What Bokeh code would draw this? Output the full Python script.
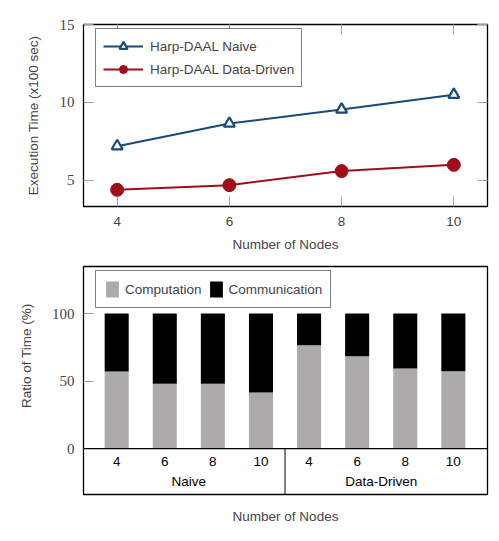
from bokeh.plotting import figure
from bokeh.models import (Range1d, LinearAxis, FixedTicker, Legend, LegendItem,
                          ColumnDataSource, Span, Title)
from bokeh.layouts import column
from bokeh.core.properties import value
from bokeh.embed import file_html
from bokeh.resources import INLINE

# ---------------- data ----------------
nodes = [4, 6, 8, 10]
naive_time = [7.2, 8.65, 9.55, 10.5]
dd_time = [4.4, 4.7, 5.6, 6.0]

groups = ["Naive", "Data-Driven"]
bar_nodes = ["4", "6", "8", "10", "4", "6", "8", "10"]
bar_groups = ["Naive"] * 4 + ["Data-Driven"] * 4
computation = [57.0, 48.0, 48.0, 41.5, 76.5, 68.4, 59.3, 57.3]
communication = [100 - c for c in computation]

# ---------------- styles ----------------
SANS = "Liberation Sans"
SERIF = "Liberation Serif"
BLUE = "#194b78"
RED = "#a00f19"
GRAY = "#adaaaa"
TICK = "#a0a0a0"
FS = "13.5px"
NUM_FS = "15px"


def style_left_axis(ax, ticks, label):
    ax.ticker = FixedTicker(ticks=ticks)
    ax.axis_label = label
    ax.axis_label_text_font = SANS
    ax.axis_label_text_font_size = FS
    ax.axis_label_text_font_style = "normal"
    ax.axis_label_standoff = 16
    ax.major_label_text_font = SERIF
    ax.major_label_text_font_size = NUM_FS
    ax.major_label_standoff = 9
    ax.major_tick_in = 10
    ax.major_tick_out = 0
    ax.major_tick_line_color = TICK
    ax.minor_tick_line_color = None
    ax.axis_line_color = None


def blank_axis(ticks):
    ax = LinearAxis(ticker=FixedTicker(ticks=ticks))
    ax.major_label_overrides = {t: "" for t in ticks}
    ax.major_label_standoff = 0
    ax.major_tick_in = 10
    ax.major_tick_out = 0
    ax.major_tick_line_color = TICK
    ax.minor_tick_line_color = None
    ax.axis_line_color = None
    return ax


# ---------------- top chart ----------------
p1 = figure(frame_width=404, frame_height=182,
            x_range=Range1d(3.4, 10.6), y_range=Range1d(3.33, 15),
            output_backend="svg", toolbar_location=None,
            min_border_left=83, min_border_right=6,
            min_border_top=24, min_border_bottom=52)
p1.outline_line_color = "black"
p1.outline_line_width = 1.3
p1.xgrid.grid_line_color = None
p1.ygrid.grid_line_color = None

xa = p1.xaxis[0]
xa.ticker = FixedTicker(ticks=nodes)
xa.axis_label = "Number of Nodes"
xa.axis_label_text_font = SANS
xa.axis_label_text_font_size = FS
xa.axis_label_text_font_style = "normal"
xa.axis_label_standoff = 8
xa.major_label_text_font = SANS
xa.major_label_text_font_size = FS
xa.major_label_standoff = 10
xa.major_tick_in = 10
xa.major_tick_out = 0
xa.major_tick_line_color = TICK
xa.minor_tick_line_color = None
xa.axis_line_color = None

style_left_axis(p1.yaxis[0], [5, 10, 15], "Execution Time (x100 sec)")
p1.add_layout(blank_axis(nodes), "above")
p1.add_layout(blank_axis([5, 10, 15]), "right")

l1 = p1.line(nodes, naive_time, line_color=BLUE, line_width=2)
m1 = p1.scatter(nodes, naive_time, marker="triangle", size=11,
                fill_color="white", line_color=BLUE, line_width=2.2)
l2 = p1.line(nodes, dd_time, line_color=RED, line_width=2)
m2 = p1.scatter(nodes, dd_time, marker="circle", size=13,
                fill_color=RED, line_color=RED, line_width=1)

leg1 = Legend(items=[LegendItem(label="Harp-DAAL Naive", renderers=[l1, m1]),
                     LegendItem(label="Harp-DAAL Data-Driven", renderers=[l2, m2])],
              location=(12, 119), orientation="vertical",
              glyph_width=40, glyph_height=20, label_standoff=7,
              spacing=3, padding=7, margin=0,
              border_line_color="black", border_line_width=1,
              label_text_font=SANS, label_text_font_size=FS,
              background_fill_alpha=1)
p1.add_layout(leg1, "center")

# ---------------- bar chart (with category band below zero) ----------------
xs = list(range(len(computation)))
src = ColumnDataSource(dict(x=xs, comp=computation, comm=communication))
Y_TOP = 134.8
Y_BAND = -34.0

p2 = figure(frame_width=404, frame_height=228,
            x_range=Range1d(-0.69, len(xs) - 1 + 0.71), y_range=Range1d(Y_BAND, Y_TOP),
            output_backend="svg", toolbar_location=None,
            min_border_left=83, min_border_right=6,
            min_border_top=8, min_border_bottom=10)
p2.outline_line_color = "black"
p2.outline_line_width = 1.3
p2.xgrid.grid_line_color = None
p2.ygrid.grid_line_color = None
style_left_axis(p2.yaxis[0], [0, 50, 100], None)

# y-axis title placed over the bar area only (not the label band)
p2.add_layout(Title(text="Ratio of Time (%)", align="right", offset=37, standoff=30,
                    text_font=SANS, text_font_size=FS, text_font_style="normal"),
              "left")

xa2 = p2.xaxis[0]
xa2.ticker = FixedTicker(ticks=[])
xa2.major_label_standoff = 0
xa2.major_tick_in = 0
xa2.major_tick_out = 0
xa2.axis_line_color = None
xa2.axis_label = "Number of Nodes"
xa2.axis_label_text_font = SANS
xa2.axis_label_text_font_size = FS
xa2.axis_label_text_font_style = "normal"
xa2.axis_label_standoff = 14

bars = p2.vbar_stack(["comp", "comm"], x="x", width=0.5, source=src,
                     fill_color=[GRAY, "black"], line_color=None)
p2.add_layout(Span(location=0, dimension="width", line_color="black", line_width=1.3))

leg2 = Legend(items=[LegendItem(label="Computation", renderers=[bars[0]]),
                     LegendItem(label="Communication", renderers=[bars[1]])],
              location=(12, 186), orientation="horizontal",
              glyph_width=16, glyph_height=20, label_standoff=5,
              spacing=6, padding=8, margin=0,
              border_line_color="black", border_line_width=1,
              label_text_font=SANS, label_text_font_size=FS,
              background_fill_alpha=1)
p2.add_layout(leg2, "center")

p2.text(x=xs, y=[-9.6] * len(xs), text=bar_nodes,
        text_font=value(SANS), text_font_size=FS,
        text_align="center", text_baseline="middle")
group_x = [sum(i for i, g in enumerate(bar_groups) if g == grp) / bar_groups.count(grp)
           for grp in groups]
p2.text(x=group_x, y=[-24.4] * len(groups), text=groups,
        text_font=value(SANS), text_font_size=FS,
        text_align="center", text_baseline="middle")
n_naive = bar_groups.count("Naive")
sep_x = (n_naive - 1 + n_naive) / 2
p2.segment(x0=[sep_x], y0=[Y_BAND], x1=[sep_x], y1=[0], line_color="black", line_width=1)

layout = column(p1, p2, spacing=0)
open("out.html", "w").write(file_html(layout, INLINE))
